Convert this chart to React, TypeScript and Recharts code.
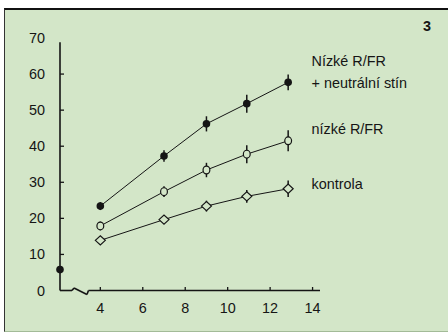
import { ComposedChart, Line, XAxis, YAxis, ErrorBar, ReferenceLine } from "recharts";

// growth over days
const days = [4, 7, 9, 10.9, 12.85];
const shadeValues = [23.4, 37.3, 46.2, 51.8, 57.7]; // Nízké R/FR + neutrální stín
const shadeErrors = [1.1, 1.6, 2.1, 2.5, 2.2];
const lowValues = [17.9, 27.4, 33.4, 37.8, 41.5]; // nízké R/FR
const lowErrors = [1.2, 1.5, 2.0, 2.5, 2.9];
const controlValues = [13.9, 19.65, 23.4, 26.1, 28.2]; // kontrola
const controlErrors = [0.5, 0.8, 1.5, 1.75, 2.3];
const startValue = 5.8; // day 0, drawn at the broken start of the axis

const xTicks = [4, 6, 8, 10, 12, 14];
const yTicks = [0, 10, 20, 30, 40, 50, 60, 70];
const seriesLabels = ["Nízké R/FR", "+ neutrální stín", "nízké R/FR", "kontrola"];
const panelLabel = "3";

const X_MIN = 2.1;
const X_MAX = 14.35;
const FONT = "'Liberation Sans', Arial, Helvetica, sans-serif";
const INK = "#151515";
const BG = "#d3e6c8";

// axis break zig-zag, in data units
const xAxisPath = [
  { x: X_MIN, y: 0 },
  { x: 2.665, y: 0 },
  { x: 2.76, y: 0.7 },
  { x: 3.37, y: -1.1 },
  { x: 3.44, y: 0 },
  { x: X_MAX, y: 0 },
];

const rows = [
  { x: X_MIN, start: startValue },
  ...days.map((d, i) => ({
    x: d,
    shade: shadeValues[i],
    shadeErr: shadeErrors[i],
    low: lowValues[i],
    lowErr: lowErrors[i],
    control: controlValues[i],
    controlErr: controlErrors[i],
  })),
];

const FilledDot = (p: any) =>
  p.cx == null || p.cy == null ? null : <circle cx={p.cx} cy={p.cy} r={3.8} fill={INK} />;

const OpenDot = (p: any) =>
  p.cx == null || p.cy == null ? null : (
    <ellipse cx={p.cx} cy={p.cy} rx={3.4} ry={3.9} fill={BG} stroke={INK} strokeWidth={1.2} />
  );

const DiamondDot = (p: any) =>
  p.cx == null || p.cy == null ? null : (
    <path
      d={`M${p.cx - 5},${p.cy} L${p.cx},${p.cy - 4.6} L${p.cx + 5},${p.cy} L${p.cx},${p.cy + 4.6} Z`}
      fill={BG}
      stroke={INK}
      strokeWidth={1.2}
    />
  );

const XTick = ({ x, y, payload }: any) => (
  <g>
    <line x1={x} x2={x} y1={y} y2={y - 3.5} stroke={INK} strokeWidth={1.3} />
    <text x={x} y={y + 22} textAnchor="middle" fill={INK} fontSize={14.4} fontFamily={FONT}>
      {payload.value}
    </text>
  </g>
);

const YTick = ({ x, y, payload }: any) => (
  <g>
    {payload.value > 0 && payload.value < 70 && (
      <line x1={x} x2={x + 4} y1={y} y2={y} stroke={INK} strokeWidth={1.3} />
    )}
    <text x={x - 15} y={y + 5} textAnchor="end" fill={INK} fontSize={14.4} fontFamily={FONT}>
      {payload.value}
    </text>
  </g>
);

export default function App() {
  return (
    <div style={{ position: "absolute", left: 0, top: 0, width: 448, height: 332, background: "#fff" }}>
      <div
        style={{
          position: "absolute",
          left: 4,
          top: 8,
          width: 444,
          height: 324,
          boxSizing: "border-box",
          background: BG,
          borderTop: "2px solid #111",
          borderLeft: "1px solid #333",
          borderBottom: "1px solid #a3bb98",
        }}
      />
      <div style={{ position: "absolute", left: 0, top: 0 }}>
        <ComposedChart width={448} height={332} data={rows} margin={{ top: 38, right: 128, bottom: 11.5, left: 10 }}>
          <XAxis
            type="number"
            dataKey="x"
            domain={[X_MIN, X_MAX]}
            ticks={xTicks}
            interval={0}
            axisLine={false}
            tickLine={false}
            tickSize={0}
            tickMargin={0}
            height={30}
            tick={<XTick />}
          />
          <YAxis
            type="number"
            domain={[0, 70]}
            ticks={yTicks}
            interval={0}
            axisLine={false}
            tickLine={false}
            tickSize={0}
            tickMargin={0}
            width={50}
            tick={<YTick />}
          />
          <ReferenceLine
            segment={[{ x: X_MIN, y: 0 }, { x: X_MIN, y: 68.8 }]}
            stroke={INK}
            strokeWidth={1.6}
            ifOverflow="visible"
          />
          {xAxisPath.slice(1).map((pt, i) => (
            <ReferenceLine
              key={i}
              segment={[xAxisPath[i], pt]}
              stroke={INK}
              strokeWidth={1.6}
              ifOverflow="visible"
            />
          ))}
          <Line dataKey="control" stroke={INK} strokeWidth={1} dot={<DiamondDot />} activeDot={false} isAnimationActive={false}>
            <ErrorBar dataKey="controlErr" direction="y" width={0} stroke={INK} strokeWidth={1.5} />
          </Line>
          <Line dataKey="low" stroke={INK} strokeWidth={1} dot={<OpenDot />} activeDot={false} isAnimationActive={false}>
            <ErrorBar dataKey="lowErr" direction="y" width={0} stroke={INK} strokeWidth={1.5} />
          </Line>
          <Line dataKey="shade" stroke={INK} strokeWidth={1} dot={<FilledDot />} activeDot={false} isAnimationActive={false}>
            <ErrorBar dataKey="shadeErr" direction="y" width={0} stroke={INK} strokeWidth={1.5} />
          </Line>
          <Line dataKey="start" stroke="none" dot={<FilledDot />} activeDot={false} isAnimationActive={false} />
        </ComposedChart>
      </div>
      <svg width={448} height={332} style={{ position: "absolute", left: 0, top: 0, pointerEvents: "none" }}>
        <g fontFamily={FONT} fontSize={14.4} fill={INK}>
          <text x={311.5} y={66}>{seriesLabels[0]}</text>
          <text x={311.5} y={87.5}>{seriesLabels[1]}</text>
          <text x={311.5} y={134.3}>{seriesLabels[2]}</text>
          <text x={311.5} y={189.3}>{seriesLabels[3]}</text>
          <text x={423} y={30.5} fontWeight="bold">{panelLabel}</text>
        </g>
      </svg>
    </div>
  );
}
